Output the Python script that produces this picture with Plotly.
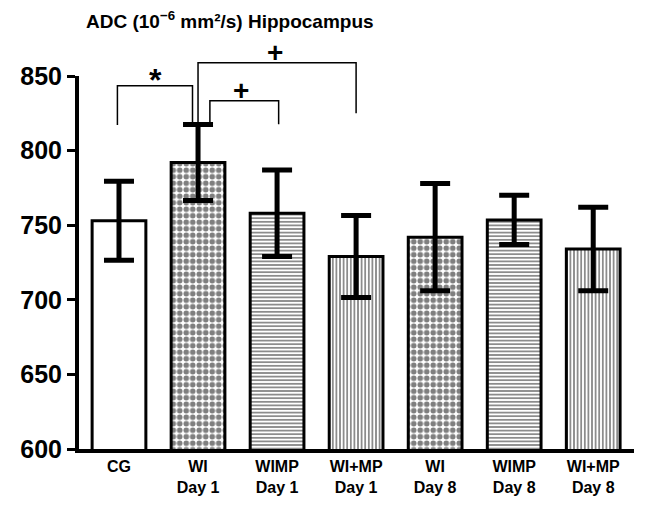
import plotly.graph_objects as go

categories = ["CG", "WI<br>Day 1", "WIMP<br>Day 1", "WI+MP<br>Day 1",
              "WI<br>Day 8", "WIMP<br>Day 8", "WI+MP<br>Day 8"]
adc_mean = [753, 792, 758, 729, 742, 753.5, 734]
adc_err = [26.5, 25.5, 29, 27.5, 36, 16.5, 28]
patterns = ["", ".", "-", "|", ".", "-", "|"]
y_ticks = [600, 650, 700, 750, 800, 850]
title_text = "ADC (10<sup>−6</sup> mm²/s) Hippocampus"

# significance brackets: (x_left, x_right, y_top, y_left_bottom, y_right_bottom)
brackets = [(-0.02, 0.93, 843.5, 817.2, 817.4),
            (1.15, 2.02, 833.4, 817.4, 817.6),
            (1.00, 3.00, 858.9, 817.4, 825.0)]
sig_labels = [("*", 0.46, 847.5, 32), ("+", 1.54, 840.5, 28), ("+", 1.98, 866, 28)]

Y0, Y1 = 600, 850
def py(v):
    return (v - Y0) / (Y1 - Y0)

FONT = "Liberation Sans, Arial, sans-serif"
PAGE_OFF = 8  # browser default body margin
W, H = 655 - PAGE_OFF, 508 - PAGE_OFF

fig = go.Figure()
fig.add_trace(go.Bar(
    x=categories, y=adc_mean, width=0.68,
    marker=dict(color="white", line=dict(color="black", width=3),
                pattern=dict(shape=patterns, fgcolor="black", bgcolor="white",
                             size=[5, 6.5, 3.6, 3.6, 6.5, 3.6, 3.6],
                             solidity=[0.3, 0.58, 0.45, 0.45, 0.58, 0.45, 0.45])),
    error_y=dict(type="data", array=adc_err, visible=True, color="black",
                 thickness=5, width=15),
    showlegend=False,
))

for (x0, x1, yt, yl, yr) in brackets:
    fig.add_shape(type="path", xref="x", yref="paper",
                  path=f"M {x0},{py(yl)} L {x0},{py(yt)} L {x1},{py(yt)} L {x1},{py(yr)}",
                  line=dict(color="black", width=1.5))

for (txt, xx, yy, fs) in sig_labels:
    fig.add_annotation(text=txt, x=xx, y=py(yy), xref="x", yref="paper",
                       showarrow=False, yanchor="middle", xanchor="center",
                       font=dict(family=FONT, size=fs, color="black", weight="bold"))

fig.update_layout(
    width=W, height=H,
    margin=dict(l=75 - PAGE_OFF, r=21, t=76 - PAGE_OFF, b=59),
    paper_bgcolor="white", plot_bgcolor="white",
    font=dict(family=FONT, color="black"),
    title=dict(text=title_text, x=(86 - PAGE_OFF) / W, xanchor="left",
               y=1 - (21 - PAGE_OFF) / H, yanchor="middle", xref="container", yref="container",
               font=dict(family=FONT, size=19, color="black", weight="bold")),
)
fig.update_xaxes(range=[-0.506, 6.516], showline=True, linewidth=4, linecolor="black",
                 ticks="", showgrid=False, zeroline=False,
                 tickfont=dict(family=FONT, size=16, color="black", weight="bold"))
fig.update_yaxes(range=[Y0, Y1], tickvals=y_ticks, showline=True, linewidth=4,
                 linecolor="black", ticks="outside", ticklen=8, tickwidth=3,
                 tickcolor="black", showgrid=False, zeroline=False,
                 tickfont=dict(family=FONT, size=25, color="black", weight="bold"))

fig.write_html("out.html")
